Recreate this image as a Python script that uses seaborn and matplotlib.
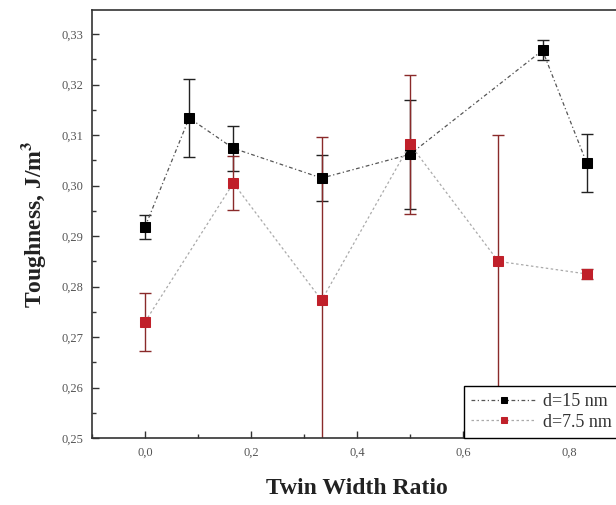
import numpy as np
import pandas as pd
import matplotlib
matplotlib.use("Agg")
import matplotlib.pyplot as plt
import seaborn as sns
from matplotlib.ticker import MultipleLocator, FuncFormatter

# ---- data ----
x_15 = [0.0, 0.0833, 0.1667, 0.3333, 0.5, 0.75, 0.8333]
y_15 = [0.2918, 0.3134, 0.3074, 0.3015, 0.3062, 0.3268, 0.3045]
e_15 = [0.0023, 0.0078, 0.0045, 0.0045, 0.0108, 0.0020, 0.0057]

x_75 = [0.0, 0.1667, 0.3333, 0.5, 0.6667, 0.8333]
y_75 = [0.2730, 0.3005, 0.2773, 0.3082, 0.2850, 0.2825]
e_75 = [0.0057, 0.0054, 0.0323, 0.0138, 0.0250, 0.0010]

labels = ["d=15 nm", "d=7.5 nm"]

sns.set_style("ticks")
plt.rcParams['font.family'] = ['Liberation Serif', 'DejaVu Serif']
plt.rcParams['mathtext.fontset'] = 'stix'

fig = plt.figure(figsize=(6.16, 5.05), dpi=100)
ax = fig.add_axes([92/616, 67/505, 530/616, 428/505])

df15 = pd.DataFrame({"x": x_15, "y": y_15})
df75 = pd.DataFrame({"x": x_75, "y": y_75})

# error bars
ax.errorbar(x_15, y_15, yerr=e_15, fmt='none', ecolor='#222222',
            elinewidth=1.0, capsize=4, capthick=1.0, zorder=2)
ax.errorbar(x_75, y_75, yerr=e_75, fmt='none', ecolor='#8a2a2a',
            elinewidth=1.0, capsize=4, capthick=1.0, zorder=2)

sns.lineplot(data=df15, x="x", y="y", ax=ax, color='#555555', lw=0.9,
             linestyle=(0, (3, 2, 1, 2)), marker='s', markersize=6.5,
             markerfacecolor='black', markeredgecolor='black',
             label=labels[0], zorder=3)
sns.lineplot(data=df75, x="x", y="y", ax=ax, color='#aaaaaa', lw=0.9,
             linestyle=(0, (2, 2)), marker='s', markersize=6.5,
             markerfacecolor='#c0202a', markeredgecolor='#c0202a',
             label=labels[1], zorder=3)

ax.set_xlim(-0.1, 0.9)
ax.set_ylim(0.25, 0.3348)
ax.xaxis.set_major_locator(MultipleLocator(0.2))
ax.xaxis.set_minor_locator(MultipleLocator(0.1))
ax.yaxis.set_major_locator(MultipleLocator(0.01))
ax.yaxis.set_minor_locator(MultipleLocator(0.005))
ax.xaxis.set_major_formatter(FuncFormatter(lambda v, p: f"{v:.1f}".replace('.', ',')))
ax.yaxis.set_major_formatter(FuncFormatter(lambda v, p: f"{v:.2f}".replace('.', ',')))
ax.tick_params(which='both', direction='in', colors='#333333', labelcolor='#555555',
               labelsize=9, width=1.0)
ax.tick_params(which='major', length=5)
ax.tick_params(which='minor', length=3)
ax.tick_params(axis='y', pad=6)
ax.tick_params(axis='x', pad=6)

for s in ax.spines.values():
    s.set_color('#333333')
    s.set_linewidth(1.2)

ax.set_xlabel("Twin Width Ratio", fontsize=17, fontweight='bold', color='#222222', labelpad=14)
ax.set_ylabel("Toughness, J/m$^\\mathbf{3}$", fontsize=17, fontweight='bold', color='#222222', labelpad=10)

leg = ax.legend(loc='lower right', bbox_to_anchor=(0.995, 0.0), borderaxespad=0,
                fontsize=13, frameon=True, fancybox=False, edgecolor='black',
                framealpha=1, handlelength=3.6, borderpad=0.4, labelspacing=0.2,
                handletextpad=0.4, markerscale=0.6)
leg.get_frame().set_linewidth(1.0)
for t in leg.get_texts():
    t.set_color('#333333')

fig.savefig("out.png", dpi=100)
